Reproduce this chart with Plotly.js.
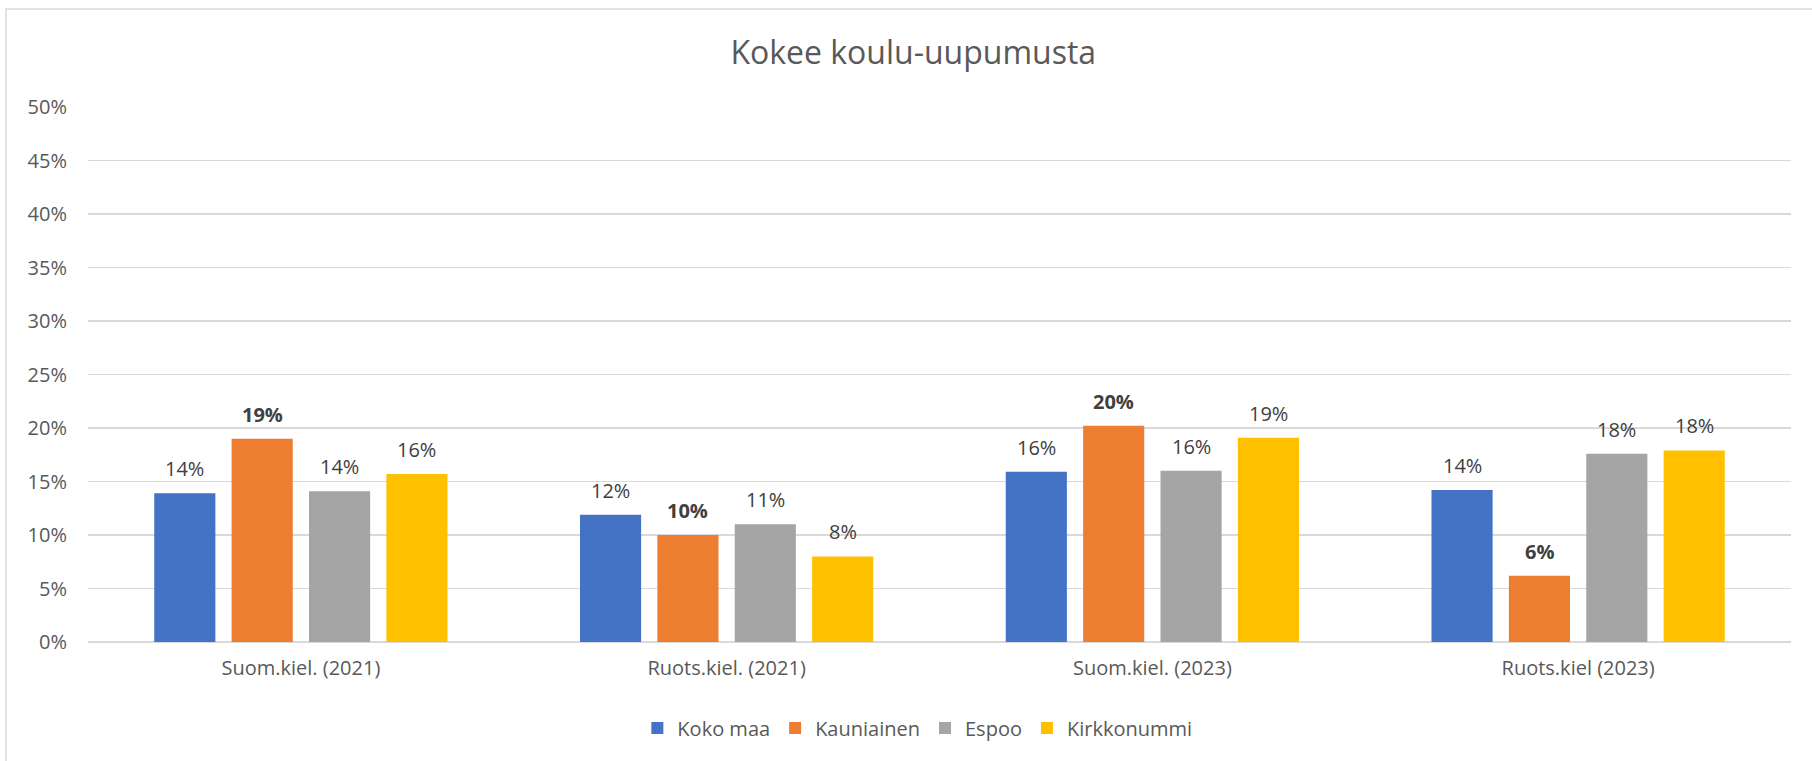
<!DOCTYPE html>
<html>
<head>
<meta charset="utf-8">
<script src="https://cdn.plot.ly/plotly-3.0.1.min.js"></script>
<style>
  html, body { margin: 0; padding: 0; background: #ffffff; }
  #wrap { position: relative; width: 1812px; height: 761px; overflow: hidden; }
  #chart { width: 1812px; height: 761px; }
  #frame { position: absolute; left: 5px; top: 8px; right: -10px; bottom: -10px;
           border-left: 2px solid #e3e3e3; border-top: 2px solid #e3e3e3; pointer-events: none; }
</style>
</head>
<body>
<div id="wrap">
  <div id="chart"></div>
  <div id="frame"></div>
</div>
<script>
const categories = ["Suom.kiel. (2021)", "Ruots.kiel. (2021)", "Suom.kiel. (2023)", "Ruots.kiel (2023)"];
const seriesNames = ["Koko maa", "Kauniainen", "Espoo", "Kirkkonummi"];
const kokoMaa     = [0.139, 0.119, 0.159, 0.142];
const kauniainen  = [0.190, 0.100, 0.202, 0.062];
const espoo       = [0.141, 0.110, 0.160, 0.176];
const kirkkonummi = [0.157, 0.080, 0.191, 0.179];
const yTicks = [0, 0.05, 0.10, 0.15, 0.20, 0.25, 0.30, 0.35, 0.40, 0.45, 0.50];

const colors = ["#4472C4", "#ED7D31", "#A5A5A5", "#FFC000"];
const values = [kokoMaa, kauniainen, espoo, kirkkonummi];
const FONT = "Open Sans, Noto Sans, sans-serif";
const BARGAP = 0.273;
const GROUPGAP = 0.21;

const traces = values.map((v, i) => ({
  type: "bar",
  name: seriesNames[i],
  x: categories,
  y: v,
  marker: { color: colors[i] },
  hoverinfo: "x+y+name"
}));

// data labels placed through the axes: category index + group slot offset
const nSeries = values.length;
const slot = (1 - BARGAP) / nSeries;
const annotations = [];
values.forEach((v, i) => {
  v.forEach((val, c) => {
    annotations.push({
      xref: "x", yref: "y",
      x: c + slot * (i - (nSeries - 1) / 2),
      y: val,
      text: Math.round(val * 100) + "%",
      showarrow: false,
      xanchor: "center", yanchor: "bottom",
      yshift: 9,
      font: { family: FONT, size: 20, color: "#404040", weight: i === 1 ? "bold" : "normal" }
    });
  });
});

const layout = {
  width: 1812, height: 761,
  paper_bgcolor: "#ffffff", plot_bgcolor: "#ffffff",
  margin: { l: 87.5, r: 21.3, t: 107.4, b: 119.3 },
  barmode: "group",
  bargap: BARGAP,
  bargroupgap: GROUPGAP,
  title: { text: "Kokee koulu-uupumusta", font: { family: FONT, size: 32, color: "#595959" },
           x: 0.504, xanchor: "center", y: 0.93, yanchor: "middle", yref: "container" },
  font: { family: FONT, size: 20, color: "#595959" },
  xaxis: {
    type: "category",
    showgrid: false, zeroline: false, showline: false, ticks: "",
    tickfont: { family: FONT, size: 20, color: "#595959" },
    ticklabelstandoff: 12
  },
  yaxis: {
    range: [0, 0.5], tickvals: yTicks, tickformat: ".0%",
    showgrid: true, gridcolor: "#d9d9d9", gridwidth: 1.5,
    zeroline: true, zerolinecolor: "#d9d9d9", zerolinewidth: 1.5,
    showline: false, ticks: "",
    tickfont: { family: FONT, size: 20, color: "#595959" },
    ticklabelstandoff: 20
  },
  legend: {
    orientation: "h", x: 0.487, xanchor: "center",
    y: -(727.5 - 641.7) / (761 - 107.4 - 119.3), yanchor: "middle",
    font: { family: FONT, size: 20, color: "#595959" },
    traceorder: "normal"
  },
  annotations: annotations,
  showlegend: true
};

Plotly.newPlot("chart", traces, layout, { displayModeBar: false, staticPlot: true });
</script>
</body>
</html>
